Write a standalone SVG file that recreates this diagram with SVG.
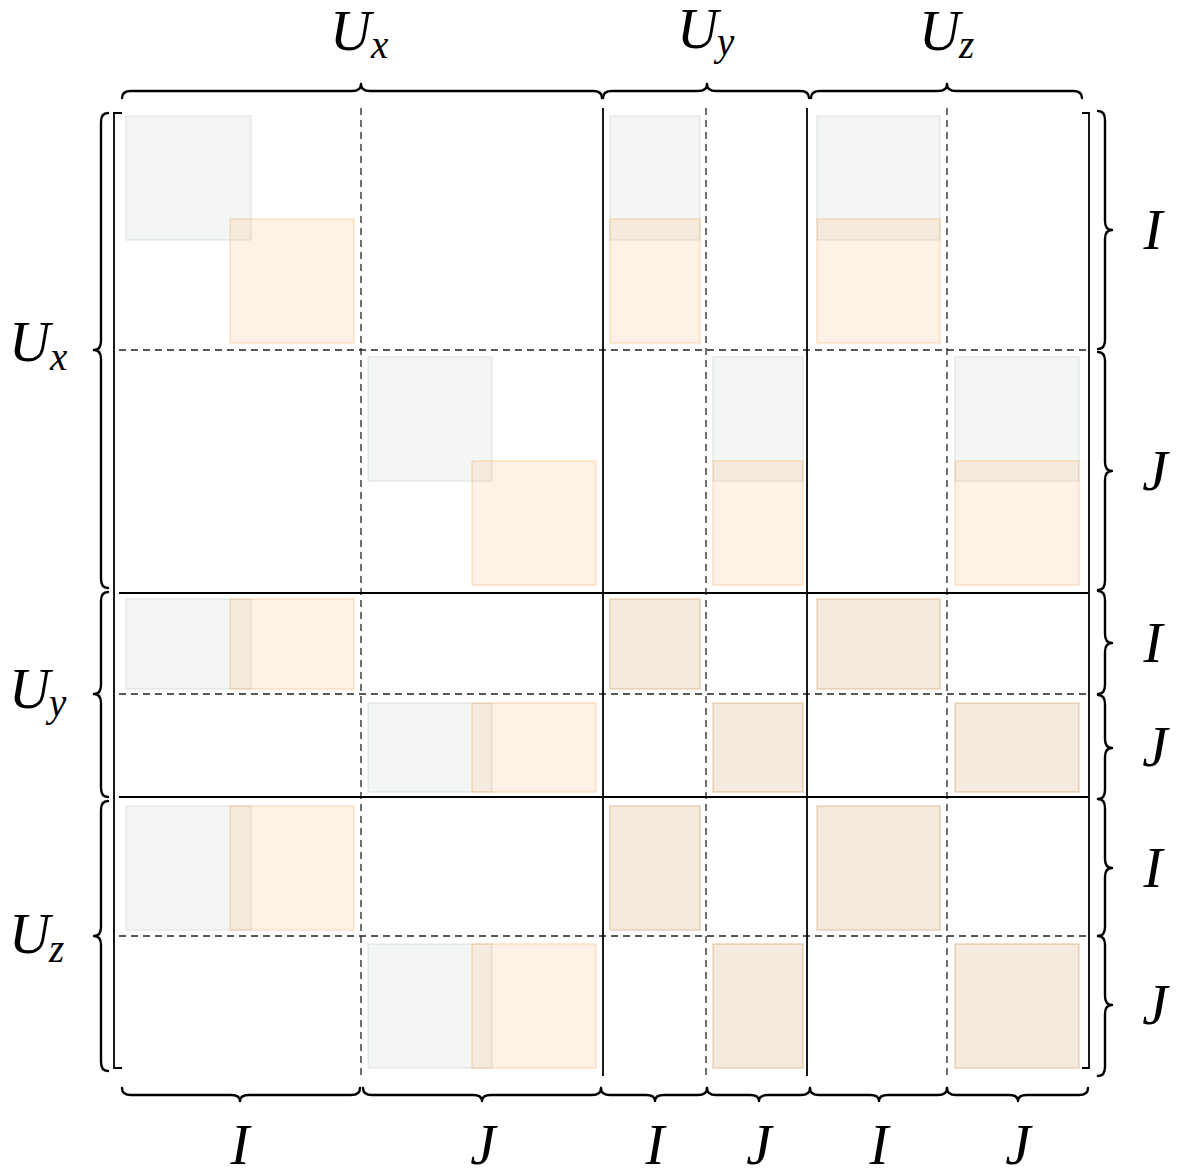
<svg xmlns="http://www.w3.org/2000/svg" width="1177" height="1171" viewBox="0 0 1177 1171">
<style>
.g{fill:#b4c2bc;fill-opacity:.15;stroke:#b4c2bc;stroke-opacity:.45;stroke-width:1}
.o{fill:#f7a54f;fill-opacity:.14;stroke:#f7a54f;stroke-opacity:.45;stroke-width:1}
.sol{stroke:#000;stroke-width:1.8;fill:none}
.dash{stroke:#222;stroke-width:1.3;stroke-dasharray:7 5;fill:none}
.br{stroke:#000;stroke-width:2.4;fill:none;stroke-linecap:round;stroke-linejoin:round}
.bk{stroke:#000;stroke-width:1.8;fill:none}
.m{font-family:"Liberation Serif",serif;font-style:italic;font-size:57px;fill:#000}
.s{font-family:"Liberation Serif",serif;font-style:italic;font-size:39px;fill:#000}
</style>
<rect width="1177" height="1171" fill="#fff"/>
<g id="blocks">
<!-- Ux rows -->
<rect class="g" x="126" y="116" width="125" height="124"/>
<rect class="o" x="230" y="219" width="124" height="124"/>
<rect class="g" x="368" y="357" width="124" height="124"/>
<rect class="o" x="472" y="461" width="124" height="124"/>
<rect class="g" x="610" y="116" width="90" height="124"/>
<rect class="o" x="610" y="219" width="90" height="124"/>
<rect class="g" x="817" y="116" width="123" height="124"/>
<rect class="o" x="817" y="219" width="123" height="124"/>
<rect class="g" x="713" y="357" width="90" height="124"/>
<rect class="o" x="713" y="461" width="90" height="124"/>
<rect class="g" x="955" y="357" width="124" height="124"/>
<rect class="o" x="955" y="461" width="124" height="124"/>
<!-- Uy rows -->
<rect class="g" x="126" y="599" width="125" height="90"/>
<rect class="o" x="230" y="599" width="124" height="90"/>
<rect class="g" x="368" y="703" width="124" height="89"/>
<rect class="o" x="472" y="703" width="124" height="89"/>
<rect class="g" x="610" y="599" width="90" height="90"/>
<rect class="o" x="610" y="599" width="90" height="90"/>
<rect class="g" x="713" y="703" width="90" height="89"/>
<rect class="o" x="713" y="703" width="90" height="89"/>
<rect class="g" x="817" y="599" width="123" height="90"/>
<rect class="o" x="817" y="599" width="123" height="90"/>
<rect class="g" x="955" y="703" width="124" height="89"/>
<rect class="o" x="955" y="703" width="124" height="89"/>
<!-- Uz rows -->
<rect class="g" x="126" y="806" width="125" height="124"/>
<rect class="o" x="230" y="806" width="124" height="124"/>
<rect class="g" x="368" y="944" width="124" height="124"/>
<rect class="o" x="472" y="944" width="124" height="124"/>
<rect class="g" x="610" y="806" width="90" height="124"/>
<rect class="o" x="610" y="806" width="90" height="124"/>
<rect class="g" x="713" y="944" width="90" height="124"/>
<rect class="o" x="713" y="944" width="90" height="124"/>
<rect class="g" x="817" y="806" width="123" height="124"/>
<rect class="o" x="817" y="806" width="123" height="124"/>
<rect class="g" x="955" y="944" width="124" height="124"/>
<rect class="o" x="955" y="944" width="124" height="124"/>
</g>
<g id="grid">
<line class="dash" x1="361" y1="108" x2="361" y2="1076"/>
<line class="dash" x1="706" y1="108" x2="706" y2="1076"/>
<line class="dash" x1="947" y1="108" x2="947" y2="1076"/>
<line class="dash" x1="119" y1="350" x2="1088" y2="350"/>
<line class="dash" x1="119" y1="694" x2="1088" y2="694"/>
<line class="dash" x1="119" y1="936" x2="1088" y2="936"/>
<line class="sol" x1="603" y1="108" x2="603" y2="1076"/>
<line class="sol" x1="807" y1="108" x2="807" y2="1076"/>
<line class="sol" x1="119" y1="593" x2="1088" y2="593"/>
<line class="sol" x1="119" y1="797" x2="1088" y2="797"/>
</g>
<g id="brackets">
<path class="bk" d="M122,113 H114 V1068 H122"/>
<path class="bk" d="M1082,113 H1089 V1068 H1082"/>
</g>
<g id="braces">
<!-- top -->
<path class="br" d="M122,98 Q122,91 131,91 L352,91 Q361,91 361,84 Q361,91 370,91 L593,91 Q602,91 602,98"/>
<path class="br" d="M603,98 Q603,91 612,91 L698,91 Q707,91 707,84 Q707,91 716,91 L800,91 Q809,91 809,98"/>
<path class="br" d="M811,98 Q811,91 820,91 L938,91 Q947,91 947,84 Q947,91 956,91 L1073,91 Q1082,91 1082,98"/>
<!-- bottom -->
<path class="br" d="M122,1088 Q122,1095 131,1095 L231,1095 Q240,1095 240,1101 Q240,1095 249,1095 L351,1095 Q360,1095 360,1088"/>
<path class="br" d="M363,1088 Q363,1095 372,1095 L473,1095 Q482,1095 482,1101 Q482,1095 491,1095 L592,1095 Q601,1095 601,1088"/>
<path class="br" d="M601,1088 Q601,1095 610,1095 L646,1095 Q655,1095 655,1101 Q655,1095 664,1095 L698,1095 Q707,1095 707,1088"/>
<path class="br" d="M707,1088 Q707,1095 716,1095 L750,1095 Q759,1095 759,1101 Q759,1095 768,1095 L801,1095 Q810,1095 810,1088"/>
<path class="br" d="M810,1088 Q810,1095 819,1095 L870,1095 Q879,1095 879,1101 Q879,1095 888,1095 L938,1095 Q947,1095 947,1088"/>
<path class="br" d="M947,1088 Q947,1095 956,1095 L1009,1095 Q1018,1095 1018,1101 Q1018,1095 1027,1095 L1079,1095 Q1088,1095 1088,1088"/>
<!-- left -->
<path class="br" d="M108,113 Q101,113 101,122 L101,341 Q101,350 94,350 Q101,350 101,359 L101,579 Q101,588 108,588"/>
<path class="br" d="M108,592 Q101,592 101,601 L101,685 Q101,694 94,694 Q101,694 101,703 L101,788 Q101,797 108,797"/>
<path class="br" d="M108,801 Q101,801 101,810 L101,927 Q101,936 94,936 Q101,936 101,945 L101,1062 Q101,1071 108,1071"/>
<!-- right -->
<path class="br" d="M1098,111 Q1105,111 1105,120 L1105,221 Q1105,230 1112,230 Q1105,230 1105,239 L1105,340 Q1105,349 1098,349"/>
<path class="br" d="M1098,352 Q1105,352 1105,361 L1105,462 Q1105,471 1112,471 Q1105,471 1105,480 L1105,581 Q1105,590 1098,590"/>
<path class="br" d="M1098,591 Q1105,591 1105,600 L1105,634 Q1105,643 1112,643 Q1105,643 1105,652 L1105,685 Q1105,694 1098,694"/>
<path class="br" d="M1098,695 Q1105,695 1105,704 L1105,739 Q1105,748 1112,748 Q1105,748 1105,757 L1105,790 Q1105,799 1098,799"/>
<path class="br" d="M1098,799 Q1105,799 1105,808 L1105,859 Q1105,868 1112,868 Q1105,868 1105,877 L1105,927 Q1105,936 1098,936"/>
<path class="br" d="M1098,936 Q1105,936 1105,945 L1105,996 Q1105,1005 1112,1005 Q1105,1005 1105,1014 L1105,1067 Q1105,1076 1098,1076"/>
</g>
<g id="labels">
<text class="m" x="330" y="50">U</text><text class="s" x="371" y="58">x</text>
<text class="m" x="677" y="48">U</text><text class="s" x="717" y="55">y</text>
<text class="m" x="919" y="50">U</text><text class="s" x="959" y="58">z</text>
<text class="m" x="9" y="361">U</text><text class="s" x="50" y="370">x</text>
<text class="m" x="9" y="708">U</text><text class="s" x="49" y="716">y</text>
<text class="m" x="9" y="953">U</text><text class="s" x="49" y="962">z</text>
<g text-anchor="middle">
<text class="m" x="1153" y="249">I</text>
<text class="m" x="1155" y="490">J</text>
<text class="m" x="1153" y="662">I</text>
<text class="m" x="1155" y="766">J</text>
<text class="m" x="1153" y="887">I</text>
<text class="m" x="1155" y="1024">J</text>
<text class="m" x="240" y="1164">I</text>
<text class="m" x="483" y="1164">J</text>
<text class="m" x="655" y="1164">I</text>
<text class="m" x="759" y="1164">J</text>
<text class="m" x="879" y="1164">I</text>
<text class="m" x="1018" y="1164">J</text>
</g>
</g>
</svg>
